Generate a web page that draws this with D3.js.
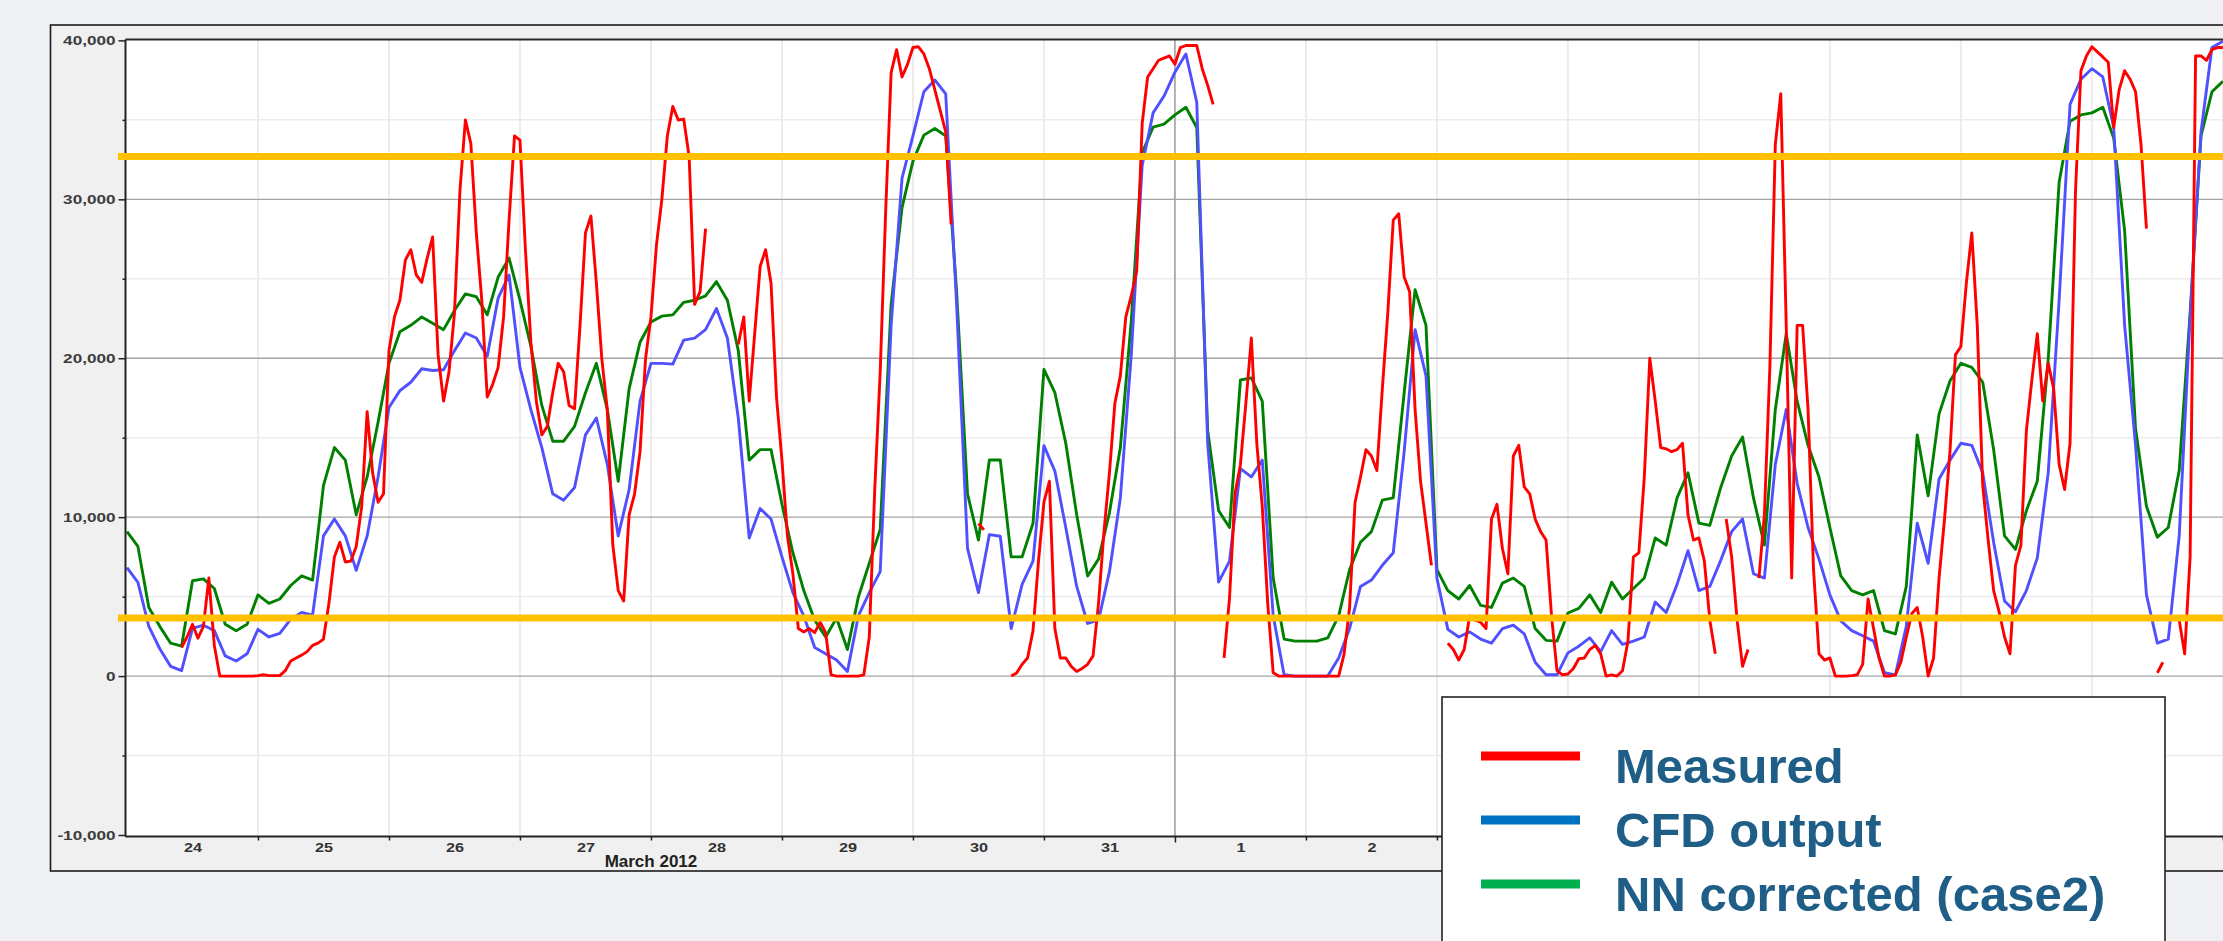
<!DOCTYPE html>
<html>
<head>
<meta charset="utf-8">
<script src="https://cdn.jsdelivr.net/npm/d3@7"></script>
<style>
  html, body { margin: 0; padding: 0; background: #eef0f4; }
  svg { display: block; }
</style>
</head>
<body>
<svg id="chart" width="2223" height="941"></svg>
<script>
// ---- data -------------------------------------------------------------
// Series start at 24 March 2012 00:00 (UTC); measured values are hourly,
// model values every two hours. null marks missing measurements.
const seriesStart = Date.UTC(2012, 2, 24);
const measuredStepHours = 1;
const modelStepHours = 2;

const measured = [
  null,null,null,null,null,null,null,null,null,null,
  1800,2460,3260,2380,3130,6170,1930,0,0,0,
  0,0,0,0,30,80,30,30,30,340,
  950,1140,1320,1540,1930,2070,2330,4580,7500,8420,
  7180,7230,8160,10680,16640,12790,10940,11470,20480,22600,
  23650,26170,26830,25240,24770,26300,27630,20210,17300,19150,
  22860,30540,35000,33500,27890,23650,17560,18360,19420,22600,
  28690,33990,33720,26830,21010,17300,15180,15710,17830,19680,
  19150,17030,16820,22070,27890,28950,24720,19950,16770,8290,
  5380,4720,10150,11470,14120,19950,22600,27100,30010,33990,
  35840,34990,35050,32660,23390,24190,28160,null,null,null,
  null,null,20870,22600,17300,21540,25770,26830,24720,17560,
  13590,8820,6440,2990,2780,2990,2730,3390,2730,80,
  0,0,0,0,0,80,2460,11740,19150,29220,
  37960,39420,37700,38490,39550,39600,39150,38220,36900,35580,
  34250,28420,null,null,null,null,9600,9200,null,null,
  null,null,0,200,740,1140,2860,7230,10940,12260,
  2990,1140,1140,610,290,480,740,1270,4580,9090,
  12790,17170,18890,22600,23920,25510,34780,37700,38220,38750,
  38890,39020,38500,39550,39680,39680,39680,38220,37170,35970,
  null,1140,4900,11470,13320,17170,21270,14650,10680,4580,
  210,0,0,0,0,0,0,0,0,0,
  0,0,0,1400,4320,10940,12530,14250,13850,12930,
  18090,22860,28690,29090,25110,24190,16770,12260,9620,6970,
  null,null,2070,1670,1010,1670,3790,3520,3390,2990,
  9880,10810,8030,6440,13850,14520,11900,11470,9880,9090,
  8560,3790,340,80,130,480,1090,1140,1670,1930,
  1400,0,80,0,340,2200,7500,7760,12530,20000,
  17300,14380,14300,14120,14250,14650,10150,8560,8690,7230,
  3520,1400,null,9880,7500,3520,610,1670,null,6170,
  10150,19420,33460,36640,22070,6170,22070,22070,16770,6700,
  1400,1010,1140,0,0,0,30,80,740,4850,
  2990,1140,0,0,80,870,2460,3920,4320,2460,
  0,1140,6170,9880,14120,20210,20740,24720,27890,22070,
  12000,8560,5380,4050,2460,1400,6970,8240,15440,18620,
  21540,17300,19680,18090,13320,11740,14650,30540,38090,39020,
  39600,39280,38960,38620,34520,36900,38090,37560,36770,33460,
  28160,null,200,870,null,null,3520,1400,7500,39020,
  39020,38750,39420,39550,39550
];

const cfdOutput = [
  6830,5900,3130,1720,610,340,3000,3200,2860,1270,
  950,1400,2940,2460,2680,3580,4000,3840,8820,9880,
  8820,6650,8820,12530,16900,17960,18490,19340,19230,19280,
  20480,21590,21270,20130,23790,25240,19420,16770,14380,11470,
  11070,11870,15180,16240,13320,8820,11740,17300,19680,19680,
  19630,21140,21270,21800,23130,21270,16240,8690,10540,9880,
  7500,5250,3790,1800,1400,1010,290,3790,5250,6570,
  22070,31340,33990,36770,37510,36640,23390,8030,5250,8900,
  8800,2990,5770,7230,14500,12900,9350,5640,3310,3520,
  6570,11210,20210,32130,35440,36500,38000,39150,36110,14650,
  5910,7230,13060,12530,13590,3790,80,0,0,0,
  0,1140,2990,5640,6040,6970,7760,14120,21800,18890,
  6170,2940,2460,2780,2330,2070,2990,3200,2660,870,
  80,80,1460,1880,2410,1540,2860,1990,2200,2460,
  4660,4000,5770,7890,5380,5640,7280,9090,9880,6440,
  6170,13320,16770,12130,9350,7360,5110,3470,2860,2540,
  2200,210,80,3130,9620,7100,12400,13590,14650,14520,
  12790,8420,4720,4050,5380,7440,12790,23650,35970,37560,
  38220,37700,34520,22070,14520,5110,2070,2330,8820,22600,
  34250,39550,39950
];

const nnCorrected = [
  9090,8160,4320,3130,2070,1880,6000,6120,5510,3260,
  2860,3260,5110,4580,4850,5700,6300,6040,12000,14380,
  13590,10150,12530,15970,19680,21670,22070,22600,22200,21800,
  23000,24050,23870,22730,25110,26300,23650,20740,17030,14780,
  14780,15710,17830,19680,16770,12260,18090,21010,22280,22650,
  22730,23520,23650,23920,24820,23650,20480,13590,14250,14250,
  10810,7760,5380,3520,2460,3660,1670,4980,7100,9220,
  23390,29480,32400,34040,34460,33990,24190,11470,8560,13600,
  13600,7500,7500,9620,19300,17830,14650,10150,6300,7360,
  10280,14380,22330,32930,34540,34730,35310,35790,34520,15440,
  10410,9350,18630,18760,17300,6170,2330,2200,2200,2200,
  2410,3790,6700,8420,9090,11070,11210,17830,24320,22070,
  6700,5380,4850,5700,4450,4320,5850,6170,5640,2990,
  2250,2200,3970,4260,5110,4000,5910,4850,5510,6170,
  8690,8240,11210,12790,9620,9480,11870,13850,15050,11210,
  8240,16770,21540,17300,14520,12530,9350,6300,5380,5110,
  5380,2860,2650,5640,15180,11340,16500,18570,19680,19420,
  18490,14250,8820,7970,10410,12260,19950,31070,34910,35310,
  35440,35790,33850,28030,15580,10680,8740,9350,12930,22860,
  33990,36770,37430
];

// reference levels drawn across the whole plot
const thresholds = [3650, 32700];

const yTicks = [-10000, 0, 10000, 20000, 30000, 40000];
const yMinorTicks = [-5000, 5000, 15000, 25000, 35000];
const monthLabels = ["March 2012"];

const seriesNames = ["Measured", "CFD output", "NN corrected (case2)"];

// ---- layout & styles --------------------------------------------------
const W = 2223, H = 941;
const panel = { left: 50.5, top: 25, bottom: 871 };
const plot = { left: 125.5, top: 39.5, bottom: 836.5, right: 2300 };
const legendBox = { left: 1442, top: 697, width: 723, height: 300 };
const hourPx = 5.458;
const x0 = 127;

const lineColors = ["#ff0000", "#5050ff", "#008000"];
const legendColors = ["#ff0000", "#0070c0", "#00b050"];
const font = "'Liberation Sans', Arial, sans-serif";

const svg = d3.select("#chart");

const domainStart = new Date(seriesStart);
const domainEnd = new Date(seriesStart + (plot.right - x0) / hourPx * 3600e3);
const x = d3.scaleUtc().domain([domainStart, domainEnd]).range([x0, plot.right]);
const y = d3.scaleLinear().domain([-10000, 40000]).range([835, 40.4]);

// panel and plot background
svg.append("rect")
  .attr("x", panel.left).attr("y", panel.top)
  .attr("width", W + 20 - panel.left).attr("height", panel.bottom - panel.top)
  .attr("fill", "#f0f0f0").attr("stroke", "#1c1c1c").attr("stroke-width", 1.6);

svg.append("rect")
  .attr("x", plot.left).attr("y", plot.top)
  .attr("width", plot.right - plot.left).attr("height", plot.bottom - plot.top)
  .attr("fill", "#ffffff");

const grid = svg.append("g");

// minor horizontal grid
grid.selectAll(".hminor").data(yMinorTicks).join("line")
  .attr("x1", plot.left).attr("x2", plot.right)
  .attr("y1", d => y(d)).attr("y2", d => y(d))
  .attr("stroke", "#ececec").attr("stroke-width", 1.5);

// vertical day grid
const days = d3.utcDay.range(d3.utcDay.offset(domainStart, 1), domainEnd);
grid.selectAll(".vday").data(days.filter(d => d.getUTCDate() !== 1)).join("line")
  .attr("x1", d => x(d)).attr("x2", d => x(d))
  .attr("y1", plot.top).attr("y2", plot.bottom)
  .attr("stroke", "#ececec").attr("stroke-width", 2);

// major horizontal grid
grid.selectAll(".hmajor").data(yTicks.filter(v => v > -10000 && v < 40000)).join("line")
  .attr("x1", plot.left).attr("x2", plot.right)
  .attr("y1", d => y(d)).attr("y2", d => y(d))
  .attr("stroke", "#a4a4a4").attr("stroke-width", 1.3);

// month boundary
grid.selectAll(".vmonth").data(days.filter(d => d.getUTCDate() === 1)).join("line")
  .attr("x1", d => x(d)).attr("x2", d => x(d))
  .attr("y1", plot.top).attr("y2", plot.bottom)
  .attr("stroke", "#a0a0a0").attr("stroke-width", 1.6);

// ---- series -------------------------------------------------------------
svg.append("clipPath").attr("id", "plotClip")
  .append("rect")
  .attr("x", plot.left).attr("y", plot.top)
  .attr("width", plot.right - plot.left).attr("height", plot.bottom - plot.top);

function toPoints(values, stepHours) {
  return values.map((v, i) => ({ date: new Date(seriesStart + i * stepHours * 3600e3), value: v }));
}

const line = d3.line()
  .defined(d => d.value !== null)
  .x(d => x(d.date))
  .y(d => y(d.value));

const series = [
  { values: measured, step: measuredStepHours, color: lineColors[0] },
  { values: cfdOutput, step: modelStepHours, color: lineColors[1] },
  { values: nnCorrected, step: modelStepHours, color: lineColors[2] }
];

const gSeries = svg.append("g").attr("clip-path", "url(#plotClip)");
// NN corrected underneath, CFD above it, measured on top
[2, 1, 0].forEach(k => {
  gSeries.append("path")
    .datum(toPoints(series[k].values, series[k].step))
    .attr("d", line)
    .attr("fill", "none")
    .attr("stroke", series[k].color)
    .attr("stroke-width", 2.9)
    .attr("stroke-linejoin", "round");
});

// ---- axes frame ---------------------------------------------------------
svg.append("line")
  .attr("x1", plot.left).attr("x2", plot.right)
  .attr("y1", plot.top).attr("y2", plot.top)
  .attr("stroke", "#2a2a2a").attr("stroke-width", 2);

const yAxis = d3.axisLeft(y).tickValues(yTicks).tickSize(7).tickPadding(1)
  .tickFormat(d => d3.format(",")(d).replace("\u2212", "-"));
const gy = svg.append("g").attr("transform", `translate(${plot.left},0)`).call(yAxis)
  .attr("font-family", font).attr("font-size", 13);
gy.select(".domain").attr("stroke", "#222").attr("stroke-width", 2)
  .attr("d", `M0,${plot.top}V${plot.bottom}`);
gy.selectAll(".tick line").attr("stroke", "#222").attr("stroke-width", 1.5);
gy.selectAll(".tick text")
  .attr("font-weight", "bold").attr("fill", "#3c3c3c")
  .attr("x", -7.5).attr("transform", "scale(1.32,1)");

const yMinor = d3.axisLeft(y).tickValues(yMinorTicks).tickSize(3).tickFormat("");
const gym = svg.append("g").attr("transform", `translate(${plot.left},0)`).call(yMinor);
gym.select(".domain").remove();
gym.selectAll(".tick line").attr("stroke", "#222").attr("stroke-width", 1.5);

const xAxis = d3.axisBottom(x).tickValues(days).tickSize(4).tickFormat("");
const gx = svg.append("g").attr("transform", `translate(0,${plot.bottom})`).call(xAxis);
gx.select(".domain").attr("stroke", "#222").attr("stroke-width", 2)
  .attr("d", `M${plot.left},0H${plot.right}`);
gx.selectAll(".tick line").attr("stroke", "#222").attr("stroke-width", 1.5)
  .attr("y2", d => d.getUTCDate() === 1 ? 6 : 4);

// day numbers at noon; those behind the legend box are left out
const allDays = d3.utcDay.range(domainStart, domainEnd);
const noons = allDays.map(d => d3.utcHour.offset(d, 12))
  .filter(d => x(d) < legendBox.left - 12);
const xLabels = d3.axisBottom(x).tickValues(noons).tickSize(0).tickPadding(6)
  .tickFormat(d3.utcFormat("%-d"));
const gxl = svg.append("g").attr("transform", `translate(0,${plot.bottom})`).call(xLabels)
  .attr("font-family", font).attr("font-size", 13);
gxl.select(".domain").remove();
gxl.selectAll(".tick text").attr("fill", "#333").attr("font-weight", "bold")
  .attr("transform", "scale(1.25,1)");

// month caption centred under the visible part of the month
const monthStarts = d3.utcMonth.range(d3.utcMonth.floor(domainStart), domainEnd)
  .slice(0, monthLabels.length);
svg.append("g").selectAll("text").data(monthStarts).join("text")
  .attr("x", d => {
    const a = Math.max(+d, +domainStart);
    const b = Math.min(+d3.utcMonth.offset(d, 1), +domainEnd);
    return x(new Date((a + b) / 2));
  })
  .attr("y", 867)
  .attr("text-anchor", "middle")
  .attr("font-family", font).attr("font-size", 17).attr("font-weight", "bold")
  .attr("fill", "#222")
  .text((d, i) => monthLabels[i]);

// ---- threshold lines ----------------------------------------------------
svg.append("g").selectAll("line").data(thresholds).join("line")
  .attr("x1", 118).attr("x2", W + 10)
  .attr("y1", d => y(d)).attr("y2", d => y(d))
  .attr("stroke", "#ffc000").attr("stroke-width", 7);

// ---- legend -------------------------------------------------------------
const legend = svg.append("g").attr("transform", `translate(${legendBox.left},${legendBox.top})`);
legend.append("rect")
  .attr("x", 0).attr("y", 0).attr("width", legendBox.width).attr("height", legendBox.height)
  .attr("fill", "#ffffff").attr("stroke", "#222").attr("stroke-width", 1.6);

const items = legend.selectAll(".item").data(seriesNames).join("g")
  .attr("transform", (d, i) => `translate(0,${59 + i * 64})`);
items.append("rect")
  .attr("x", 39).attr("y", -4.5).attr("width", 99).attr("height", 9)
  .attr("fill", (d, i) => legendColors[i]);
items.append("text")
  .attr("x", 173).attr("y", 27)
  .attr("font-family", font).attr("font-size", 49).attr("font-weight", "bold")
  .attr("fill", "#1f5e86")
  .text(d => d);
</script>
</body>
</html>
